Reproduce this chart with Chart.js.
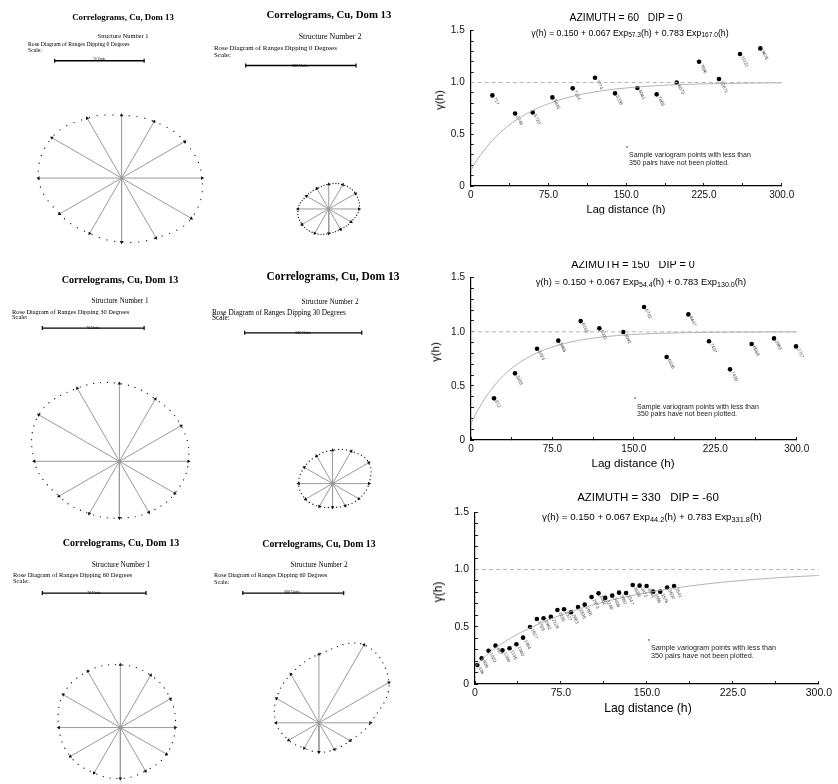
<!DOCTYPE html>
<html>
<head>
<meta charset="utf-8">
<script src="https://cdn.jsdelivr.net/npm/chart.js@4.4.1/dist/chart.umd.min.js"></script>
<style>
  html, body { margin: 0; padding: 0; background: #fff; }
  #page { position: relative; width: 838px; height: 784px; overflow: hidden; background: #fff; }
  canvas { position: absolute; }
  .t { position: absolute; white-space: nowrap; color: #000; line-height: 1; will-change: transform;
       -webkit-font-smoothing: antialiased; }
  .serif { font-family: "Liberation Serif", "Times New Roman", serif; }
  .sans { font-family: "Liberation Sans", Arial, Helvetica, sans-serif; }
  .clip { position: absolute; overflow: hidden; }
  sub { font-size: 75%; vertical-align: -0.25em; line-height: 0; }
</style>
</head>
<body>
<div id="page"></div>
<script>
// ---------- Rose diagrams: ranges of the two correlogram structures ----------
// spoke directions, degrees counter-clockwise from east
const roseAngles = [0, 30, 60, 90, 120, 150, 180, 210, 240, 270, 300, 330];
// range along each spoke, in units
const rangesS1Dip0  = [63, 57, 51, 49, 54, 63, 65, 56, 50, 50, 54, 63];
const rangesS2Dip0  = [165, 168, 152, 134, 128, 140, 167, 168, 152, 133, 128, 140];
const rangesS1Dip30 = [47.5, 49, 49.5, 53.5, 58, 64, 58.5, 48, 41.5, 39, 40.5, 44];
const rangesS2Dip30 = [187, 215, 192, 171, 163, 167, 174, 160, 135, 122, 131, 156];
const rangesS1Dip60 = [37, 39, 41, 42.5, 44, 44.5, 41.5, 39, 35.5, 34.5, 34, 36];
const rangesS2Dip60 = [307, 481, 537, 409, 334, 291, 255, 208, 175, 175, 184, 214];
// length of the scale bars, in units
const scaleUnitsS1 = 70;
const scaleUnitsS2 = 600;

// ---------- Experimental variograms ----------
const lagAz60   = [20.9, 42.8, 59.8, 78.8, 98.4, 119.9, 139.2, 160.8, 179.4, 198.7, 220.3, 239.5, 259.8, 279.4];
const gammaAz60 = [0.875, 0.700, 0.711, 0.856, 0.943, 1.046, 0.895, 0.946, 0.885, 0.998, 1.200, 1.033, 1.275, 1.329];
const pairsAz60 = ['717', '2246', '5720', '5835', '7314', '7774', '8336', '8061', '7868', '8070', '7896', '12671', '11131', '9676'];

const lagAz150   = [21.2, 40.5, 60.8, 80.4, 101.0, 118.2, 140.3, 159.4, 180.2, 200.2, 219.2, 238.6, 258.5, 279.1, 299.4];
const gammaAz150 = [0.385, 0.616, 0.844, 0.918, 1.099, 1.032, 0.998, 1.229, 0.767, 1.161, 0.912, 0.653, 0.887, 0.939, 0.865];
const pairsAz150 = ['812', '3803', '5024', '5865', '6155', '6331', '3092', '6782', '6306', '6647', '7407', '7439', '6689', '3963', '2717'];

const lagAz330   = [2.0, 5.8, 11.8, 17.9, 24.0, 30.1, 36.1, 41.9, 48.0, 54.0, 59.8, 66.2, 71.9, 77.7, 83.8,
                    89.9, 95.7, 101.7, 107.8, 113.6, 119.7, 125.7, 131.8, 137.6, 143.6, 149.7, 155.5, 161.6, 167.6, 173.7];
const gammaAz330 = [0.166, 0.224, 0.291, 0.335, 0.294, 0.312, 0.347, 0.405, 0.498, 0.568, 0.574, 0.586, 0.647, 0.653, 0.627,
                    0.673, 0.693, 0.760, 0.792, 0.752, 0.772, 0.798, 0.795, 0.865, 0.859, 0.856, 0.807, 0.807, 0.842, 0.856];
const pairsAz330 = ['436', '909', '1020', '867', '1289', '1136', '1360', '1464', '1627', '1789', '1962', '2129', '2235', '2527', '2663',
                    '2808', '2991', '2973', '3062', '3248', '3408', '3462', '3547', '3589', '3473', '3544', '3595', '3576', '3602', '3541'];

// fitted model: nugget + two exponential structures
const nugget = 0.150;
const structureSills = [0.067, 0.783];
const modelRangesAz60  = [57.3, 167.0];
const modelRangesAz150 = [54.4, 130.0];
const modelRangesAz330 = [44.2, 331.8];
const sillTotal = 1.0;

const xTickLabels = ['0', '75.0', '150.0', '225.0', '300.0'];
const yTickLabels = ['0', '0.5', '1.0', '1.5'];

// ---------------------------------------------------------------------------
const page = document.getElementById('page');
Chart.defaults.animation = false;
Chart.defaults.events = [];

function text(html, x, y, o) {
  const d = document.createElement('div');
  d.className = 't ' + (o.font || 'serif');
  d.style.fontSize = o.size + 'px';
  if (o.bold) d.style.fontWeight = 'bold';
  if (o.color) d.style.color = o.color;
  d.style.left = x + 'px';
  d.style.top = y + 'px';
  const ax = o.align === 'left' ? '0' : '-50%';
  d.style.transform = 'translate(' + ax + ', -50%)' + (o.rotate ? ' rotate(' + o.rotate + 'deg)' : '');
  d.innerHTML = html;
  (o.parent || page).appendChild(d);
  return d;
}

function makeCanvas(left, top, w, h) {
  const c = document.createElement('canvas');
  c.width = w; c.height = h;
  c.style.left = left + 'px'; c.style.top = top + 'px';
  c.style.width = w + 'px'; c.style.height = h + 'px';
  page.appendChild(c);
  return c;
}

// ---------- rose diagram panel ----------
function rosePanel(g, ranges, units) {
  const c = makeCanvas(g.left, g.top, g.w, g.h);
  const k = g.pxPerUnit;
  const toRad = Math.PI / 180;
  const ends = roseAngles.map((a, i) => ({ x: ranges[i] * Math.cos(a * toRad), y: ranges[i] * Math.sin(a * toRad) }));

  const datasets = [];
  roseAngles.forEach((a, i) => {
    datasets.push({
      data: [{ x: 0, y: 0 }, ends[i]],
      showLine: true,
      borderColor: '#9a9a9a',
      borderWidth: 1,
      pointStyle: 'triangle',
      pointRadius: [0, 2.1],
      rotation: [0, 90 - a],
      pointBackgroundColor: '#111',
      pointBorderWidth: 0,
      clip: false
    });
  });
  // outline through the spoke ends (closed ring; the wrap-around helpers are hidden)
  const ring = [ends[ends.length - 1], ...ends, ends[0], ends[1]];
  const n = ring.length;
  datasets.push({
    data: ring,
    showLine: true,
    tension: 0.4,
    borderColor: '#111',
    borderWidth: g.dot,
    borderDash: [0, g.gap],
    borderCapStyle: 'round',
    pointRadius: 0,
    clip: false,
    segment: {
      borderColor: ctx => (ctx.p0DataIndex === 0 || ctx.p1DataIndex === n - 1) ? 'rgba(0,0,0,0)' : undefined
    }
  });
  // centre
  datasets.push({ data: [{ x: 0, y: 0 }], pointStyle: 'rect', pointRadius: 1.6, pointBackgroundColor: '#000', pointBorderWidth: 0, clip: false });
  // scale bar
  const bx = (g.barX - g.cx) / k, by = (g.cy - g.barY) / k;
  datasets.push({
    data: [{ x: bx, y: by }, { x: bx + units, y: by }],
    showLine: true,
    borderColor: '#000',
    borderWidth: 1.3,
    pointStyle: 'line',
    rotation: 90,
    pointRadius: 2,
    pointBorderColor: '#000',
    pointBorderWidth: 1.2,
    clip: false
  });

  new Chart(c, {
    type: 'scatter',
    data: { datasets },
    options: {
      responsive: false,
      devicePixelRatio: 1,
      layout: { padding: 0 },
      elements: { line: { capBezierPoints: false } },
      plugins: { legend: { display: false }, tooltip: { enabled: false } },
      scales: {
        x: { display: false, min: (g.left - g.cx) / k, max: (g.left + g.w - g.cx) / k },
        y: { display: false, min: (g.cy - (g.top + g.h)) / k, max: (g.cy - g.top) / k }
      }
    }
  });
}

function roseTexts(t, structure, dip, units) {
  text('Correlograms, Cu, Dom 13', t.title[0], t.title[1], { size: t.title[2], bold: true });
  text('Structure Number ' + structure, t.sn[0], t.sn[1], { size: t.sn[2] });
  text('Rose Diagram of Ranges Dipping ' + dip + ' Degrees', t.rose[0], t.rose[1], { size: t.rose[2], align: 'left' });
  text('Scale:', t.scale[0], t.scale[1], { size: t.rose[2], align: 'left' });
  text(units + ' Units', t.units[0], t.units[1], { size: t.units[2] });
}

const P1 = { left: 0, top: 40, w: 215, h: 225, cx: 122.3, cy: 179.3, pxPerUnit: 94 / 70, barX: 52, barY: 56.3, dot: 1.3, gap: 8 };
const P2 = { left: 210, top: 40, w: 215, h: 225, cx: 329.3, cy: 211.7, pxPerUnit: 116 / 600, barX: 242, barY: 61.3, dot: 1.3, gap: 3 };
const P3 = { left: 0, top: 315, w: 215, h: 215, cx: 120, cy: 463.3, pxPerUnit: 107 / 70, barX: 39, barY: 323.3, dot: 1.3, gap: 7 };
const P4 = { left: 210, top: 315, w: 215, h: 215, cx: 333.3, cy: 486.7, pxPerUnit: 123 / 600, barX: 241, barY: 328.3, dot: 1.3, gap: 4 };
const P5 = { left: 0, top: 580, w: 215, h: 204, cx: 121, cy: 730, pxPerUnit: 109 / 70, barX: 39, barY: 588.3, dot: 1.3, gap: 7 };
const P6 = { left: 210, top: 580, w: 215, h: 204, cx: 319, cy: 725, pxPerUnit: 106 / 600, barX: 239, barY: 588.3, dot: 1.3, gap: 6 };

rosePanel(P1, rangesS1Dip0, scaleUnitsS1);
rosePanel(P2, rangesS2Dip0, scaleUnitsS2);
rosePanel(P3, rangesS1Dip30, scaleUnitsS1);
rosePanel(P4, rangesS2Dip30, scaleUnitsS2);
rosePanel(P5, rangesS1Dip60, scaleUnitsS1);
rosePanel(P6, rangesS2Dip60, scaleUnitsS2);

roseTexts({ title: [123, 17, 8.8], sn: [122.5, 36, 6.4], rose: [28, 45.3, 5.7], scale: [28, 50.7], units: [99, 60, 3.5] }, 1, 0, scaleUnitsS1);
roseTexts({ title: [329, 14, 10.8], sn: [329.5, 37.3, 7.9], rose: [214, 47.7, 6.9], scale: [214, 54.7], units: [300, 66, 4] }, 2, 0, scaleUnitsS2);
roseTexts({ title: [120, 280, 10.1], sn: [119.5, 301.7, 7.2], rose: [12, 311.7, 6.4], scale: [12, 317.3], units: [92.5, 328, 4] }, 1, 30, scaleUnitsS1);
roseTexts({ title: [333, 276.7, 11.5], sn: [329.7, 302.7, 7.2], rose: [212, 312.7, 7.3], scale: [212, 318.3], units: [302.5, 333, 4] }, 2, 30, scaleUnitsS2);
roseTexts({ title: [121, 542.7, 10.1], sn: [121, 565, 7.4], rose: [13, 575, 6.5], scale: [13, 581], units: [93.5, 592.5, 4] }, 1, 60, scaleUnitsS1);
roseTexts({ title: [319, 544, 9.8], sn: [318.5, 565.7, 7.2], rose: [214, 575, 6.2], scale: [214, 581.7], units: [292, 592, 4] }, 2, 60, scaleUnitsS2);

// ---------- variogram panels ----------
const pairLabelPlugin = {
  id: 'pairLabels',
  afterDatasetsDraw(chart) {
    const ctx = chart.ctx;
    chart.data.datasets.forEach((ds, i) => {
      if (!ds.pairLabels) return;
      chart.getDatasetMeta(i).data.forEach((pt, j) => {
        ctx.save();
        ctx.translate(pt.x + 2.2, pt.y + 2.2);
        ctx.rotate(65 * Math.PI / 180);
        ctx.font = '4.6px "Liberation Sans", Arial, sans-serif';
        ctx.fillStyle = '#444';
        ctx.textBaseline = 'middle';
        ctx.fillText(ds.pairLabels[j], 0, 0);
        ctx.restore();
      });
    });
  }
};

function gammaModel(h, ranges) {
  return nugget + structureSills[0] * (1 - Math.exp(-3 * h / ranges[0]))
                + structureSills[1] * (1 - Math.exp(-3 * h / ranges[1]));
}

function variogram(g, lags, gammas, pairs, ranges) {
  const c = makeCanvas(g.left, g.top, g.w, g.h);
  const curve = [];
  for (let h = 0; h <= 300; h += 2) curve.push({ x: h, y: gammaModel(h, ranges) });
  const points = lags.map((x, i) => ({ x, y: gammas[i] }));
  new Chart(c, {
    type: 'scatter',
    data: {
      datasets: [
        { data: [{ x: 0, y: sillTotal }, { x: 300, y: sillTotal }], showLine: true, borderColor: '#b5b5b5',
          borderWidth: 1, borderDash: [4, 3], pointRadius: 0 },
        { data: curve, showLine: true, borderColor: '#b0b0b0', borderWidth: 1, pointRadius: 0, tension: 0 },
        { data: points, pointRadius: 2.3, pointBackgroundColor: '#000', pointBorderWidth: 0, pairLabels: pairs, clip: false }
      ]
    },
    options: {
      responsive: false,
      devicePixelRatio: 1,
      layout: { padding: g.pad },
      plugins: { legend: { display: false }, tooltip: { enabled: false } },
      scales: {
        x: {
          type: 'linear', min: 0, max: 300,
          afterFit: s => { s.height = 20; },
          border: { display: true, color: '#000', width: 1.2 },
          grid: { drawOnChartArea: false, drawTicks: true, tickLength: -3, tickColor: '#222', tickWidth: 1 },
          ticks: {
            stepSize: 37.5, autoSkip: false, maxRotation: 0, padding: g.xPad,
            color: '#111', font: { family: '"Liberation Sans", Arial, sans-serif', size: g.tickSize },
            callback: v => { const r = v / 75; return Math.abs(r - Math.round(r)) < 1e-6 ? xTickLabels[Math.round(r)] : ''; }
          }
        },
        y: {
          type: 'linear', min: 0, max: 1.5,
          afterFit: s => { s.width = 30; },
          border: { display: true, color: '#000', width: 1.2 },
          grid: { drawOnChartArea: false, drawTicks: true, tickLength: -3, tickColor: '#222', tickWidth: 1 },
          ticks: {
            stepSize: 0.1, autoSkip: false, padding: g.yPad,
            color: '#111', font: { family: '"Liberation Sans", Arial, sans-serif', size: g.tickSize },
            callback: v => { const r = v / 0.5; return Math.abs(r - Math.round(r)) < 1e-6 ? yTickLabels[Math.round(r)] : ''; }
          }
        }
      }
    },
    plugins: [pairLabelPlugin]
  });
}

function equation(ranges) {
  return '\u03b3(h) = ' + nugget.toFixed(3) + ' + ' + structureSills[0].toFixed(3) + ' Exp<sub>' + ranges[0].toFixed(1) +
         '</sub>(h) + ' + structureSills[1].toFixed(3) + ' Exp<sub>' + ranges[1].toFixed(1) + '</sub>(h)';
}

function variogramTexts(t, az, dip, ranges) {
  const title = 'AZIMUTH = ' + az + '&nbsp;&nbsp;&nbsp;DIP = ' + dip;
  if (t.clipTop !== undefined) {
    const clip = document.createElement('div');
    clip.className = 'clip';
    clip.style.left = '420px'; clip.style.top = t.clipTop + 'px';
    clip.style.width = '418px'; clip.style.height = '20px';
    page.appendChild(clip);
    text(title, t.title[0] - 420, t.title[1] - t.clipTop, { size: t.title[2], font: 'sans', parent: clip });
  } else {
    text(title, t.title[0], t.title[1], { size: t.title[2], font: 'sans' });
  }
  text(equation(ranges), t.eq[0], t.eq[1], { size: t.eq[2], font: 'sans' });
  text('Lag distance (h)', t.xt[0], t.xt[1], { size: t.xt[2], font: 'sans' });
  text('\u03b3(h)', t.yt[0], t.yt[1], { size: t.yt[2], font: 'sans', rotate: -90 });
  text('*', t.star[0], t.star[1], { size: 5, font: 'sans' });
  text('Sample variogram points with less than', t.note[0], t.note[1], { size: t.note[2], font: 'sans', align: 'left', color: '#222' });
  text('350 pairs have not been plotted.', t.note[0], t.note[1] + t.note[3], { size: t.note[2], font: 'sans', align: 'left', color: '#222' });
}

// chart areas: V1 x 470.7-781.7 y 30.7-186; V2 x 471-796.7 y 277.7-440; V3 x 475-821 y 512.3-684
const V1 = { left: 420, top: 0, w: 418, h: 222, pad: { left: 20.7, right: 56.3, top: 30.7, bottom: 16 }, xPad: 6, yPad: 9, tickSize: 10 };
const V2 = { left: 420, top: 258, w: 418, h: 215, pad: { left: 21, right: 41.3, top: 19.7, bottom: 13 }, xPad: 6, yPad: 9, tickSize: 10 };
const V3 = { left: 420, top: 480, w: 418, h: 240, pad: { left: 25, right: 17, top: 32.3, bottom: 16 }, xPad: 6, yPad: 9, tickSize: 10.5 };

variogram(V1, lagAz60, gammaAz60, pairsAz60, modelRangesAz60);
variogram(V2, lagAz150, gammaAz150, pairsAz150, modelRangesAz150);
variogram(V3, lagAz330, gammaAz330, pairsAz330, modelRangesAz330);

variogramTexts({ title: [626, 18, 10.4], eq: [630, 33.3, 8.8], xt: [626, 209, 11], yt: [440, 100, 11.5],
                 star: [627, 147.5], note: [629, 154, 7, 8] }, 60, 0, modelRangesAz60);
variogramTexts({ clipTop: 261, title: [633, 264, 10.8], eq: [641, 282, 9.4], xt: [633, 463, 11.6], yt: [436, 352, 11.5],
                 star: [635, 398.5], note: [637, 405.7, 7, 7.7] }, 150, 0, modelRangesAz150);
variogramTexts({ title: [647.7, 498.3, 11.5], eq: [652, 516.7, 9.8], xt: [647.7, 708.3, 12.2], yt: [438, 592, 12],
                 star: [649, 640.5], note: [650.7, 647.7, 7.2, 8.3] }, 330, -60, modelRangesAz330);
</script>
</body>
</html>
